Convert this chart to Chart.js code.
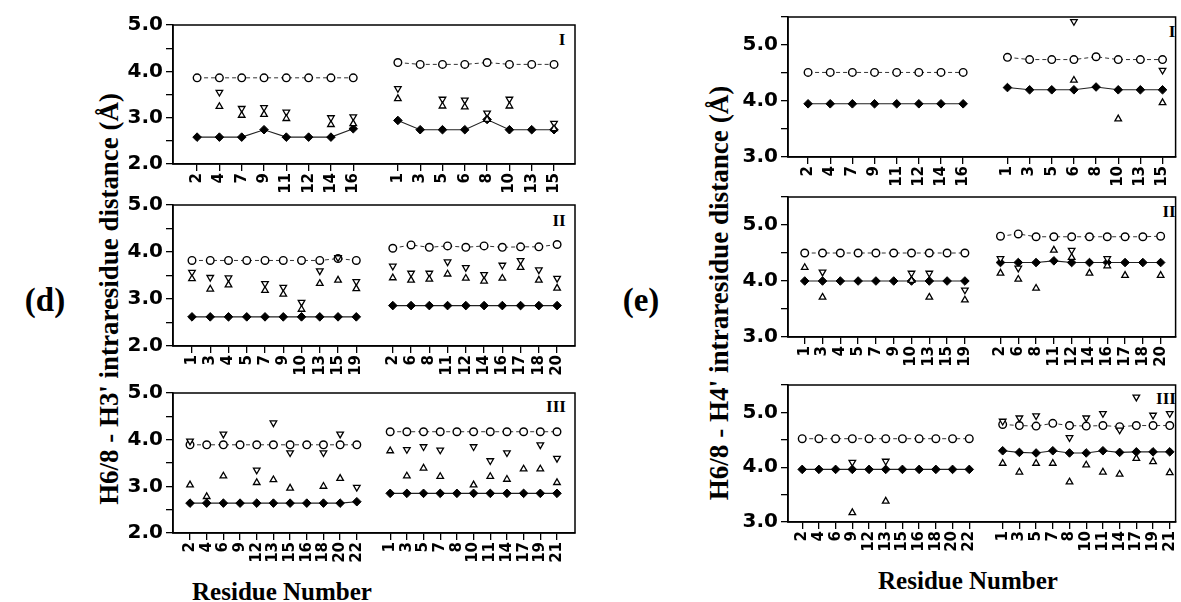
<!DOCTYPE html>
<html><head><meta charset="utf-8">
<script src="https://cdn.jsdelivr.net/npm/chart.js@4.4.1/dist/chart.umd.min.js"></script>
<style>
html,body{margin:0;padding:0;background:#fff;width:1181px;height:602px;overflow:hidden;position:relative;}
canvas{position:absolute;}
.t{position:absolute;font-family:"Liberation Serif","Times New Roman",serif;font-weight:bold;color:#000;white-space:nowrap;line-height:1;transform:translate(-50%,-50%);}
</style></head><body>
<div class="t" style="left:45px;top:300px;font-size:33px">(d)</div>
<div class="t" style="left:641px;top:300px;font-size:33px">(e)</div>
<div class="t" id="ytd" style="left:109px;top:299px;font-size:27px">H6/8 - H3' intraresidue distance (Å)</div>
<div class="t" id="yte" style="left:719px;top:293px;font-size:27px">H6/8 - H4' intraresidue distance (Å)</div>
<div class="t" style="left:282px;top:591px;font-size:25px">Residue Number</div>
<div class="t" style="left:968px;top:580px;font-size:25px">Residue Number</div>
<div class="t" style="left:562px;top:39px;font-size:17px">I</div>
<div class="t" style="left:559px;top:220px;font-size:17px">II</div>
<div class="t" style="left:556px;top:406px;font-size:17px">III</div>
<div class="t" style="left:1172px;top:31px;font-size:17px">I</div>
<div class="t" style="left:1169px;top:211px;font-size:17px">II</div>
<div class="t" style="left:1166px;top:398px;font-size:17px">III</div>
<script>
// ---------- data ----------
const dTicks = [2, 2.5, 3, 3.5, 4, 4.5, 5];
const eTicks = [3, 3.5, 4, 4.5, 5, 5.5];

const labels17 = ['2','4','7','9','11','12','14','16','','1','3','5','6','8','10','13','15'];
const labels21 = ['1','3','4','5','7','9','10','13','15','19','','2','6','8','11','12','14','16','17','18','20'];
const labels23 = ['2','4','6','9','12','13','15','16','18','20','22','','1','3','5','7','8','10','11','14','17','19','21'];

// (d) panel I
const dI_circ = [3.86,3.86,3.86,3.86,3.86,3.86,3.86,3.86,null,4.19,4.15,4.15,4.15,4.19,4.15,4.15,4.15];
const dI_diam = [2.58,2.58,2.58,2.74,2.58,2.58,2.58,2.76,null,2.94,2.74,2.74,2.74,2.96,2.74,2.74,2.74];
const dI_down = [null,3.55,3.20,3.22,3.12,null,3.00,3.02,null,3.63,null,3.40,3.38,3.10,3.40,null,2.88];
const dI_up   = [null,3.24,3.05,3.07,2.98,null,2.85,2.87,null,3.41,null,3.25,3.23,2.96,3.25,null,2.76];
// (d) panel II
const dII_circ = [3.82,3.82,3.82,3.82,3.82,3.82,3.82,3.82,3.86,3.82,null,4.08,4.15,4.10,4.13,4.10,4.13,4.10,4.11,4.11,4.16];
const dII_diam = [2.62,2.62,2.62,2.62,2.62,2.62,2.62,2.62,2.62,2.62,null,2.86,2.86,2.86,2.86,2.86,2.86,2.86,2.86,2.86,2.86];
const dII_down = [3.57,3.46,3.45,null,3.33,3.25,2.93,3.60,3.88,3.37,null,3.70,3.55,3.55,3.79,3.67,3.52,3.72,3.82,3.62,3.44];
const dII_up   = [3.43,3.21,3.30,null,3.18,3.10,2.78,3.33,3.40,3.22,null,3.45,3.40,3.42,3.53,3.44,3.38,3.44,3.67,3.40,3.23];
// (d) panel III
const dIII_circ = [3.89,3.89,3.89,3.89,3.89,3.89,3.89,3.89,3.89,3.89,3.89,null,4.17,4.17,4.17,4.17,4.17,4.17,4.17,4.17,4.17,4.17,4.17];
const dIII_diam = [2.64,2.64,2.64,2.64,2.64,2.64,2.64,2.64,2.64,2.64,2.67,null,2.85,2.85,2.85,2.85,2.85,2.85,2.85,2.85,2.85,2.85,2.85];
const dIII_down = [3.97,null,4.12,null,3.35,4.36,3.72,null,3.72,4.12,2.98,null,null,3.79,3.85,3.78,null,3.85,3.55,3.72,null,3.89,3.60];
const dIII_up   = [3.03,2.78,3.22,null,3.08,3.14,2.96,null,3.00,3.17,null,null,3.76,3.22,3.39,3.21,null,3.03,3.21,3.15,3.37,3.37,3.08];
// (e) panel I
const eI_circ = [4.51,4.51,4.51,4.51,4.51,4.51,4.51,4.51,null,4.78,4.74,4.74,4.74,4.79,4.74,4.74,4.74];
const eI_diam = [3.95,3.95,3.95,3.95,3.95,3.95,3.95,3.95,null,4.24,4.20,4.20,4.20,4.25,4.20,4.20,4.20];
const eI_down = [null,null,null,null,null,null,null,null,null,null,null,null,5.42,null,null,null,4.55];
const eI_up   = [null,null,null,null,null,null,null,null,null,null,null,null,4.37,null,3.68,null,3.97];
// (e) panel II
const eII_circ = [4.50,4.50,4.50,4.50,4.50,4.50,4.50,4.50,4.50,4.50,null,4.80,4.84,4.79,4.79,4.79,4.79,4.79,4.79,4.79,4.80];
const eII_diam = [4.00,4.00,4.00,4.00,4.00,4.00,4.00,4.00,4.00,4.00,null,4.33,4.33,4.33,4.36,4.33,4.33,4.33,4.33,4.33,4.33];
const eII_down = [null,4.16,null,null,null,null,4.14,4.14,null,3.84,null,4.40,4.23,null,null,4.55,null,4.40,null,null,null];
const eII_up   = [4.24,3.71,null,null,null,null,4.01,3.71,null,3.66,null,4.14,4.03,3.87,4.55,4.42,4.14,4.27,4.10,null,4.10];
// (e) panel III
const eIII_circ = [4.52,4.52,4.52,4.52,4.52,4.52,4.52,4.52,4.52,4.52,4.52,null,4.78,4.76,4.75,4.80,4.76,4.75,4.76,4.74,4.76,4.76,4.76];
const eIII_diam = [3.96,3.96,3.96,3.96,3.96,3.96,3.96,3.96,3.96,3.96,3.96,null,4.30,4.27,4.26,4.30,4.26,4.26,4.30,4.27,4.28,4.28,4.28];
const eIII_down = [null,null,null,4.09,null,4.11,null,null,null,null,null,null,4.84,4.90,4.94,null,4.54,4.90,4.98,4.68,5.28,4.95,4.98];
const eIII_up   = [null,null,null,3.17,null,3.38,null,null,null,null,null,null,4.07,3.91,4.07,4.07,3.73,4.04,3.91,3.87,4.16,4.10,3.90];

// ---------- layout ----------
const panels = [
  {labels:labels17, circ:dI_circ,  diam:dI_diam,  dn:dI_down,  up:dI_up,  yt:dTicks, left:93,  top:5,   w:488, h:199, padT:20, padR:6, xmin:-1.08, xmax:16.94},
  {labels:labels21, circ:dII_circ, diam:dII_diam, dn:dII_down, up:dII_up, yt:dTicks, left:93,  top:185, w:488, h:201, padT:20, padR:6, xmin:-1.04, xmax:20.98},
  {labels:labels23, circ:dIII_circ,diam:dIII_diam,dn:dIII_down,up:dIII_up,yt:dTicks, left:93,  top:373, w:488, h:200, padT:20, padR:6, xmin:-1.02, xmax:23.08},
  {labels:labels17, circ:eI_circ,  diam:eI_diam,  dn:eI_down,  up:eI_up,  yt:eTicks, left:708, top:0,   w:473, h:197, padT:17, padR:1, xmin:-0.906,xmax:16.59},
  {labels:labels21, circ:eII_circ, diam:eII_diam, dn:eII_down, up:eII_up, yt:eTicks, left:708, top:177, w:473, h:200, padT:20, padR:1, xmin:-0.94, xmax:20.84},
  {labels:labels23, circ:eIII_circ,diam:eIII_diam,dn:eIII_down,up:eIII_up,yt:eTicks, left:708, top:365, w:473, h:197, padT:20, padR:1, xmin:-0.85, xmax:22.35}
];

const framePlugin = {
  id:'frame',
  beforeDatasetsDraw(chart){
    const {ctx, chartArea:a} = chart;
    ctx.save(); ctx.strokeStyle='#000'; ctx.lineWidth=1.5;
    ctx.strokeRect(a.left, a.top, a.right-a.left, a.bottom-a.top);
    ctx.restore();
  }
};

const pts = arr => arr.map((v,i) => ({x:i, y:v}));

panels.forEach(p => {
  const c = document.createElement('canvas');
  c.width = p.w; c.height = p.h;
  c.style.left = p.left+'px'; c.style.top = p.top+'px';
  c.style.width = p.w+'px'; c.style.height = p.h+'px';
  document.body.appendChild(c);
  const tickIdx = [];
  p.labels.forEach((l,i) => { if (l !== '') tickIdx.push(i); });
  const tri = {showLine:false, pointStyle:'triangle', pointRadius:3.8, pointBorderWidth:1.3,
               pointBorderColor:'#000', pointBackgroundColor:'#fff', borderColor:'#000'};
  new Chart(c, {
    type:'line',
    data:{datasets:[
      Object.assign({data:pts(p.up), pointRotation:0}, tri),
      Object.assign({data:pts(p.dn), pointRotation:180}, tri),
      {data:pts(p.circ), showLine:true, spanGaps:false, borderColor:'#333', borderWidth:1, borderDash:[4,3],
       pointStyle:'circle', pointRadius:3.8, pointBorderWidth:1.4, pointBorderColor:'#000', pointBackgroundColor:'#fff'},
      {data:pts(p.diam), showLine:true, spanGaps:false, borderColor:'#222', borderWidth:1.1,
       pointStyle:'rectRot', pointRadius:4.3, pointBorderWidth:1, pointBorderColor:'#000', pointBackgroundColor:'#000'}
    ]},
    options:{
      responsive:false, animation:false, devicePixelRatio:1,
      layout:{padding:{left:0, right:p.padR, top:p.padT, bottom:0}},
      plugins:{legend:{display:false}, tooltip:{enabled:false}},
      scales:{
        x:{type:'linear', min:p.xmin, max:p.xmax,
          afterBuildTicks: s => { s.ticks = tickIdx.map(v => ({value:v})); },
          afterFit: s => { s.height = 40; s.paddingLeft = 0; s.paddingRight = 0; },
          ticks:{autoSkip:false, minRotation:90, maxRotation:90, padding:2, color:'#000',
                 font:{family:'DejaVu Sans', weight:'bold', size:15},
                 callback: v => (p.labels[v] !== undefined ? p.labels[v] : '')},
          grid:{display:true, drawOnChartArea:false, drawTicks:true, tickLength:7, color:'#000', lineWidth:1.3},
          border:{display:true, color:'#000', width:1.5}
        },
        y:{min:p.yt[0], max:p.yt[p.yt.length-1],
          afterBuildTicks: s => { s.ticks = p.yt.map(v => ({value:v})); },
          afterFit: s => { s.width = 80; s.paddingTop = 0; s.paddingBottom = 0; },
          ticks:{autoSkip:false, padding:3, color:'#000',
                 font:{family:'DejaVu Sans', weight:'bold', size:20},
                 callback: v => (Number.isInteger(v) ? v.toFixed(1) : '')},
          grid:{display:true, drawOnChartArea:false, drawTicks:true, tickLength:7, color:'#000', lineWidth:1.3},
          border:{display:true, color:'#000', width:1.5}
        }
      }
    },
    plugins:[framePlugin]
  });
});

// fit rotated axis titles to their measured lengths
[['ytd',412],['yte',415]].forEach(([id,len]) => {
  const el = document.getElementById(id);
  const w = el.offsetWidth;
  el.style.transform = 'translate(-50%,-50%) rotate(-90deg) scaleX(' + (len/w) + ')';
});
</script>
</body></html>
